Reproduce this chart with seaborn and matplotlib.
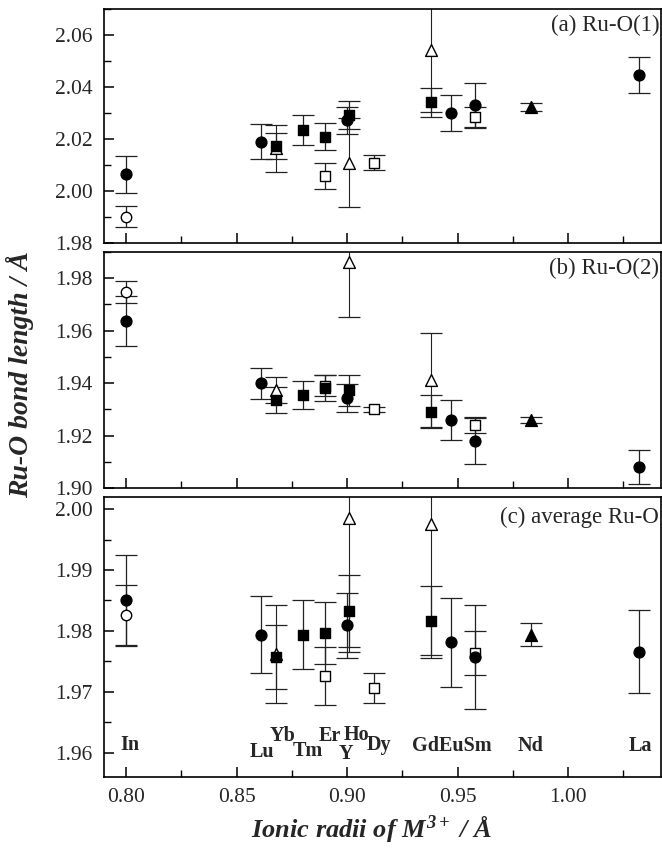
import matplotlib
matplotlib.use("Agg")
import matplotlib.pyplot as plt
import matplotlib.ticker as ticker
import numpy as np
import pandas as pd
import seaborn as sns

sns.set_theme(style="ticks")
plt.rcParams["font.family"] = ["Liberation Serif", "DejaVu Serif"]
plt.rcParams["mathtext.fontset"] = "custom"
plt.rcParams["mathtext.rm"] = "Liberation Serif:bold:italic"
plt.rcParams["mathtext.it"] = "Liberation Serif:bold:italic"
plt.rcParams["mathtext.bf"] = "Liberation Serif:bold:italic"

# --- ionic radii (Å) of the M3+ cation, one list per marker group ---
r_fill_circle = [0.800, 0.861, 0.900, 0.947, 0.958, 1.032]   # In Lu Y Eu Sm La
r_open_circle = [0.800]                                      # In
r_fill_square = [0.868, 0.880, 0.890, 0.901, 0.938]          # Yb Tm Er Ho Gd
r_open_square = [0.890, 0.912, 0.958]                        # Er Dy Sm
r_fill_tri = [0.983]                                         # Nd
r_open_tri = [0.868, 0.901, 0.938]                           # Yb Ho Gd

# --- (a) Ru-O(1) ---
a_fill_circle = [2.0064, 2.0190, 2.0273, 2.0299, 2.0331, 2.0446]
a_fill_circle_err = [0.0072, 0.0066, 0.0052, 0.0070, 0.0083, 0.0068]
a_open_circle = [1.9901]
a_open_circle_err = [0.0040]
a_fill_square = [2.0174, 2.0235, 2.0209, 2.0292, 2.0341]
a_fill_square_err = [0.0050, 0.0058, 0.0052, 0.0055, 0.0055]
a_open_square = [2.0059, 2.0109, 2.0284]
a_open_square_err = [0.0050, 0.0029, 0.0040]
a_fill_tri = [2.0324]
a_fill_tri_err = [0.0015]
a_open_tri = [2.0164, 2.0109, 2.0542]
a_open_tri_err = [0.0090, 0.0170, 0.0240]

# --- (b) Ru-O(2) ---
b_fill_circle = [1.9636, 1.9399, 1.9343, 1.9259, 1.9180, 1.9079]
b_fill_circle_err = [0.0095, 0.0060, 0.0052, 0.0075, 0.0088, 0.0065]
b_open_circle = [1.9748]
b_open_circle_err = [0.0041]
b_fill_square = [1.9335, 1.9354, 1.9382, 1.9372, 1.9291]
b_fill_square_err = [0.0050, 0.0054, 0.0050, 0.0060, 0.0062]
b_open_square = [1.9390, 1.9300, 1.9240]
b_open_square_err = [0.0040, 0.0010, 0.0030]
b_fill_tri = [1.9259]
b_fill_tri_err = [0.0013]
b_open_tri = [1.9373, 1.9862, 1.9411]
b_open_tri_err = [0.0050, 0.0210, 0.0180]

# --- (c) average Ru-O ---
c_fill_circle = [1.9851, 1.9794, 1.9809, 1.9781, 1.9757, 1.9766]
c_fill_circle_err = [0.0074, 0.0063, 0.0054, 0.0073, 0.0086, 0.0068]
c_open_circle = [1.9826]
c_open_circle_err = [0.0050]
c_fill_square = [1.9757, 1.9794, 1.9797, 1.9833, 1.9817]
c_fill_square_err = [0.0052, 0.0057, 0.0051, 0.0059, 0.0057]
c_open_square = [1.9726, 1.9706, 1.9764]
c_open_square_err = [0.0047, 0.0025, 0.0036]
c_fill_tri = [1.9794]
c_fill_tri_err = [0.0019]
c_open_tri = [1.9762, 1.9986, 1.9976]
c_open_tri_err = [0.0080, 0.0220, 0.0220]

# element labels written inside panel (c)
elem_names = ["In", "Lu", "Yb", "Tm", "Er", "Ho", "Y", "Dy", "GdEuSm", "Nd", "La"]
elem_x = [0.8017, 0.8615, 0.8706, 0.8820, 0.8920, 0.9042, 0.8993, 0.9142, 0.9475, 0.9830, 1.0325]
elem_y = [1.9613, 1.9601, 1.9627, 1.9602, 1.9627, 1.9629, 1.9597, 1.9612, 1.9611, 1.9611, 1.9611]

panel_titles = ["(a) Ru-O(1)", "(b) Ru-O(2)", "(c) average Ru-O"]

radii = {
    "fill_circle": r_fill_circle, "open_circle": r_open_circle,
    "fill_square": r_fill_square, "open_square": r_open_square,
    "fill_tri": r_fill_tri, "open_tri": r_open_tri,
}
panel_vals = {
    "a": {"fill_circle": (a_fill_circle, a_fill_circle_err), "open_circle": (a_open_circle, a_open_circle_err),
          "fill_square": (a_fill_square, a_fill_square_err), "open_square": (a_open_square, a_open_square_err),
          "fill_tri": (a_fill_tri, a_fill_tri_err), "open_tri": (a_open_tri, a_open_tri_err)},
    "b": {"fill_circle": (b_fill_circle, b_fill_circle_err), "open_circle": (b_open_circle, b_open_circle_err),
          "fill_square": (b_fill_square, b_fill_square_err), "open_square": (b_open_square, b_open_square_err),
          "fill_tri": (b_fill_tri, b_fill_tri_err), "open_tri": (b_open_tri, b_open_tri_err)},
    "c": {"fill_circle": (c_fill_circle, c_fill_circle_err), "open_circle": (c_open_circle, c_open_circle_err),
          "fill_square": (c_fill_square, c_fill_square_err), "open_square": (c_open_square, c_open_square_err),
          "fill_tri": (c_fill_tri, c_fill_tri_err), "open_tri": (c_open_tri, c_open_tri_err)},
}

rows = []
for panel, groups in panel_vals.items():
    for grp, (vals, errs) in groups.items():
        for r, v, e in zip(radii[grp], vals, errs):
            rows.append({"panel": panel, "group": grp, "radius": r, "length": v, "err": e})
df = pd.DataFrame(rows)

# marker styles; open markers drawn first so filled ones sit on top
styles = {
    "open_tri":    dict(marker="^", s=8.5 ** 2, color="white"),
    "open_square": dict(marker="s", s=6.8 ** 2, color="white"),
    "open_circle": dict(marker="o", s=7.5 ** 2, color="white"),
    "fill_square": dict(marker="s", s=6.8 ** 2, color="black"),
    "fill_circle": dict(marker="o", s=7.8 ** 2, color="black"),
    "fill_tri":    dict(marker="^", s=8.5 ** 2, color="black"),
}

fig = plt.figure(figsize=(6.62, 8.5), dpi=100)
left, right = 104 / 662, 661 / 662
boxes = [(9, 243), (252, 488), (497, 777)]
ylims = [(1.98, 2.07), (1.90, 1.99), (1.956, 2.002)]
ymajor = [0.02, 0.02, 0.01]
yminor = [0.01, 0.01, 0.005]

axes = []
for i, (top, bot) in enumerate(boxes):
    ax = fig.add_axes([left, 1 - bot / 850, right - left, (bot - top) / 850])
    axes.append(ax)
    sub = df[df["panel"] == "abc"[i]]
    for grp, st in styles.items():
        g = sub[sub["group"] == grp]
        if g.empty:
            continue
        lw_err = 0.8 if grp == "open_tri" else 0.9
        ax.errorbar(g["radius"], g["length"], yerr=g["err"], fmt="none",
                    ecolor="#222222", elinewidth=lw_err, capsize=8, capthick=0.9, zorder=2)
        sns.scatterplot(data=g, x="radius", y="length", ax=ax, marker=st["marker"], s=st["s"],
                        color=st["color"], edgecolor="black", linewidth=1.0, zorder=3, legend=False)

    ax.set_xlim(0.79, 1.042)
    ax.set_ylim(*ylims[i])
    ax.xaxis.set_major_locator(ticker.MultipleLocator(0.05))
    ax.xaxis.set_minor_locator(ticker.MultipleLocator(0.025))
    ax.yaxis.set_major_locator(ticker.MultipleLocator(ymajor[i]))
    ax.yaxis.set_minor_locator(ticker.MultipleLocator(yminor[i]))
    ax.yaxis.set_major_formatter(ticker.FormatStrFormatter("%.2f"))
    ax.xaxis.set_major_formatter(ticker.FormatStrFormatter("%.2f"))
    ax.tick_params(which="both", direction="in", top=False, right=False, color="black")
    ax.tick_params(which="major", length=7, width=1.1, labelsize=15.5, pad=8)
    ax.tick_params(which="minor", length=5, width=1.0)
    if i < 2:
        ax.tick_params(axis="x", labelbottom=False)
    for sp in ax.spines.values():
        sp.set_linewidth(1.2)
        sp.set_color("black")
    ax.set_xlabel("")
    ax.set_ylabel("")
    ax.text(0.997, 0.975 - (0.01 if i == 2 else 0), panel_titles[i], transform=ax.transAxes,
            ha="right", va="top", fontsize=16.5)

for name, x, y in zip(elem_names, elem_x, elem_y):
    axes[2].text(x, y, name, ha="center", va="center", fontsize=14.5, fontweight="bold")

fig.text(0.03, 1 - 375 / 850, "Ru-O bond length / Å", rotation=90, ha="center", va="center",
         fontsize=20, fontweight="bold", fontstyle="italic")
fig.text(0.561, 1 - 828 / 850, r"Ionic radii of $M^{3+}$ / Å", ha="center", va="center",
         fontsize=19, fontweight="bold", fontstyle="italic")

fig.savefig("out.png", dpi=100)
plt.close(fig)
